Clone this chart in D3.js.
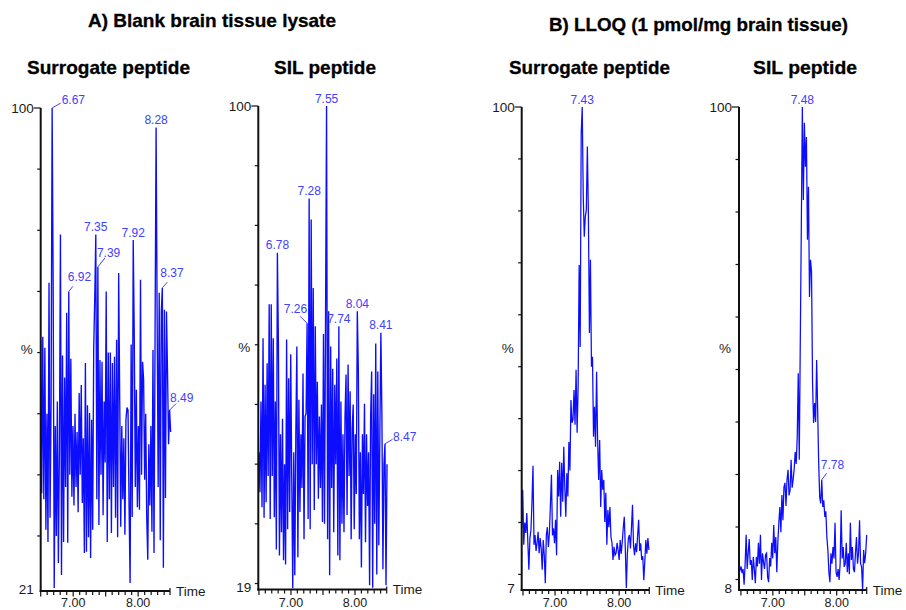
<!DOCTYPE html>
<html>
<head>
<meta charset="utf-8">
<script src="https://cdn.jsdelivr.net/npm/d3@7"></script>
<style>
  body { margin: 0; background: #fff; }
  svg { display: block; }
  text { font-family: "Liberation Sans", Arial, sans-serif; }
</style>
</head>
<body>
<svg width="906" height="610"></svg>
<script>
// --- data (% of base peak per scan) ---
const scanStep = 0.016;                 // min between scans
const scanStart = [6.50, 6.50, 6.48, 6.47];
const axisFloor = [21, 19, 7, 8];       // bottom value printed on each y axis

const blankSurrogate = [62, 37, 62.6, 36, 60.8, 31, 50, 29, 71.4, 33, 52, 100, 70.6, 21.5, 48, 30,
  52, 25.6, 44, 79.3, 23.6, 59.5, 29, 55.9, 38, 66.5, 28.9, 70, 40, 59, 36.4, 48, 35, 50, 38, 47,
  33.9, 53.4, 40, 54.7, 35.4, 46, 27.2, 58.3, 27.4, 51.4, 29.8, 50.1, 26.4, 49, 31, 60.8, 69, 79.3,
  36, 74, 31.8, 58.8, 40, 58.5, 33.4, 52, 42, 70, 29, 60, 36, 60, 30.5, 58.3, 38, 59.3, 33, 62.1,
  29.8, 73, 52.3, 31.5, 48, 36, 46, 30.2, 49, 51, 50.6, 35, 22.3, 61.3, 33.1, 78.4, 62.6, 38, 53.9,
  34.7, 48, 34.3, 71.9, 40, 58.5, 55.5, 39.2, 50, 33, 26.1, 45, 35, 48, 30.7, 60.4, 27.2, 62.6,
  96.8, 65.7, 38, 69.8, 29.3, 66.7, 70.6, 24.8, 67, 36.2, 66.7, 56.7, 45, 50.6, 47];

const blankSIL = [42, 35.3, 50.5, 32.8, 61.1, 31, 53.3, 33.6, 56.9, 38, 66.8, 30.8, 66.8, 38, 61.1,
  31.1, 50.5, 25.7, 75.4, 60.2, 24.7, 45, 28.6, 47.6, 23.9, 40, 23.2, 60.9, 29.1, 54.4, 32, 58.4,
  38, 19.2, 42, 21.4, 45, 59.7, 24.4, 50.8, 32, 45, 36, 55.2, 27.4, 48, 48.5, 63.6, 30.8, 84.5,
  29.1, 81, 40, 69.5, 32.3, 63.1, 40, 53.8, 34.2, 48, 36, 50, 30.3, 61.8, 30, 64.3, 100, 27.4, 65.6,
  21.4, 59.7, 36, 56, 28.6, 53.3, 40, 57.7, 24.7, 63.1, 23.9, 50.5, 30, 45, 28.6, 48, 55, 31.5,
  56.7, 38, 52.2, 27.4, 46, 50, 29.1, 45, 35, 65.6, 56, 27.4, 42, 22.7, 45, 35, 50.1, 26.9, 45, 33,
  42, 19.7, 48, 55.5, 19.3, 51.7, 30, 60.2, 21.5, 55.5, 26.4, 45, 62, 48.3, 22.4, 40, 43.4, 19.7, 40];

const lloqSurrogate = [18.9, 26.3, 15.7, 20, 18, 21.8, 16.1, 10.9, 17, 18.5, 23.8, 30.9, 15.7, 17.6,
  14.5, 16.1, 18.2, 14.1, 17, 15, 10.9, 16.6, 13.7, 8.3, 17.6, 19.1, 15.3, 18, 23.4, 29.2, 17.5,
  18.9, 16, 20.5, 13.7, 30.1, 25, 31.7, 21.1, 31.5, 24, 34.6, 26.8, 21.1, 29.5, 25, 35.5, 30, 43.6,
  39.2, 39.8, 45.5, 38.8, 49.4, 37.3, 46.1, 69.6, 53.8, 95, 100, 82.7, 75, 78.9, 80.2, 92.4, 79.6,
  56.5, 70.6, 50, 51.9, 36.5, 42.3, 34.6, 49, 36, 28.2, 35.9, 23, 30.1, 26.3, 28.2, 20.1, 25.7, 15.7,
  22.4, 19.1, 23, 17.2, 16.1, 12.8, 15.3, 13.7, 14.1, 16.1, 14.7, 12.8, 16.6, 14, 16.2, 19, 21.1, 15,
  7.4, 14, 17, 17.6, 15, 19, 23.4, 15.5, 13.7, 16, 14.3, 17.5, 20.5, 14.5, 16, 12.8, 13.5, 8.9, 12.5,
  16.6, 14, 17, 14.7];

const lloqSIL = [12.4, 11.8, 12.5, 11.2, 12, 9, 13, 18.5, 12, 15, 17.7, 12.8, 13.7, 9.9, 14.3, 12,
  9.3, 14.3, 12.5, 17, 13, 18.5, 9.9, 15, 13.3, 12, 14.7, 15, 10.5, 9.5, 14.1, 12.5, 17, 14, 20.4,
  15, 18.1, 11.4, 17, 20.8, 23.8, 19, 26.1, 21.3, 27.6, 28.4, 24, 29, 30.9, 26, 27, 32.8, 27.5, 29,
  31, 34.3, 32, 37.1, 49.3, 32.8, 55.6, 77.1, 100, 82.3, 97, 88.6, 94.3, 74.7, 84.8, 63.8, 70.9,
  68.6, 47.4, 39.8, 43.6, 40, 51.8, 42.3, 32.2, 25.7, 24.5, 29, 23.8, 25.1, 21.9, 23, 18.1, 15.6,
  11.4, 9.5, 15, 13, 16.2, 14, 20.8, 11.4, 10.5, 12, 9.9, 13, 23.2, 14, 16.2, 12.4, 13, 17, 11.4,
  15, 11, 20.8, 13.7, 16.2, 12, 11.4, 15, 18.1, 13, 15, 21.3, 13, 12.4, 8, 15.6, 13.1, 15, 18.5];

// retention times printed over the peaks
const blankSurrogatePeaks = ["6.67", "6.92", "7.35", "7.39", "7.92", "8.28", "8.37", "8.49"];
const blankSILPeaks = ["6.78", "7.26", "7.28", "7.55", "7.74", "8.04", "8.41", "8.47"];
const lloqSurrogatePeaks = ["7.43"];
const lloqSILPeaks = ["7.48", "7.78"];

const xTicks = [7, 8];

// --- layout ---
const svg = d3.select("svg");
const blue = "#0c0cff";
const labelBlue = "#4040ff";

const panels = [
  { series: blankSurrogate, peaks: blankSurrogatePeaks, k: 0, left: 40.7, right: 170, tMin: 6.5, tMax: 8.49, top: 108, bottom: 591, sw: 1.35 },
  { series: blankSIL, peaks: blankSILPeaks, k: 1, left: 258.3, right: 386.7, tMin: 6.49, tMax: 8.495, top: 106, bottom: 589.5, sw: 1.35 },
  { series: lloqSurrogate, peaks: lloqSurrogatePeaks, k: 2, left: 521.7, right: 649.3, tMin: 6.48, tMax: 8.47, top: 107, bottom: 590, sw: 1.25 },
  { series: lloqSIL, peaks: lloqSILPeaks, k: 3, left: 739, right: 866.7, tMin: 6.47, tMax: 8.47, top: 107, bottom: 590, sw: 1.25 }
];

// labels that sit off to one side with a small leader line
const leaders = {
  "6.67": { anchor: "start", dx: 9.5, dy: -4, lx: 8.6, ly: -5 },
  "7.39": { anchor: "start", dx: -1, dy: -10, lx: 7, ly: -9 },
  "6.92": { anchor: "start", dx: -1, dy: -10, lx: 4, ly: -5 },
  "8.37": { anchor: "start", dx: -2, dy: -10.5, lx: 5, ly: -5.5 },
  "8.49": { anchor: "start", dx: 0.5, dy: -8.5, lx: 6.5, ly: -6.5 },
  "7.26": { anchor: "end", dx: 0, dy: -10, lx: -7, ly: -7 },
  "8.47": { anchor: "start", dx: 8, dy: -3, lx: 7.5, ly: -4.5 },
  "7.78": { anchor: "start", dx: -1, dy: -10.5, lx: 5, ly: -6.5 }
};

// headings
const headings = [
  { text: "A) Blank brain tissue lysate", x: 88, y: 27, w: 248 },
  { text: "B) LLOQ (1 pmol/mg brain tissue)", x: 549, y: 31, w: 299 },
  { text: "Surrogate peptide", x: 27, y: 74, w: 163 },
  { text: "SIL peptide", x: 274, y: 74, w: 102 },
  { text: "Surrogate peptide", x: 509, y: 74, w: 161 },
  { text: "SIL peptide", x: 753, y: 74, w: 104 }
];
svg.selectAll("text.heading")
  .data(headings)
  .join("text")
  .attr("class", "heading")
  .attr("x", d => d.x)
  .attr("y", d => d.y)
  .attr("textLength", d => d.w)
  .attr("lengthAdjust", "spacingAndGlyphs")
  .style("font-family", '"Liberation Sans Narrow", "Arial Narrow", "Liberation Sans", Arial, sans-serif')
  .style("font-weight", "bold")
  .style("font-size", "18.5px")
  .attr("fill", "#000")
  .attr("stroke", "#000")
  .attr("stroke-width", 0.3)
  .text(d => d.text);

panels.forEach(p => {
  const t0 = scanStart[p.k];
  const floor = axisFloor[p.k];
  const x = d3.scaleLinear().domain([p.tMin, p.tMax]).range([p.left, p.right]);
  const y = d3.scaleLinear().domain([floor, 100]).range([p.bottom, p.top]);
  const pts = p.series.map((v, i) => [t0 + i * scanStep, v]);

  const g = svg.append("g");

  g.append("path")
    .datum(pts)
    .attr("fill", "none")
    .attr("stroke", blue)
    .attr("stroke-width", p.sw)
    .attr("stroke-linejoin", "miter")
    .attr("d", d3.line().x(d => x(d[0])).y(d => y(d[1])));

  // peak labels: attach to the tallest scan near the printed time
  p.peaks.forEach(lbl => {
    const t = +lbl;
    const near = pts.filter(d => Math.abs(d[0] - t) <= 0.02);
    const top = near.reduce((a, b) => (b[1] > a[1] ? b : a));
    const px = x(top[0]), py = y(top[1]);
    const L = leaders[lbl];
    if (L) {
      g.append("line")
        .attr("x1", px).attr("y1", py)
        .attr("x2", px + L.lx).attr("y2", py + L.ly)
        .attr("stroke", labelBlue).attr("stroke-width", 1);
    }
    g.append("text")
      .attr("x", px + (L ? L.dx : 0))
      .attr("y", py + (L ? L.dy : -3.5))
      .attr("text-anchor", L ? L.anchor : "middle")
      .attr("fill", labelBlue)
      .style("font-size", "12px")
      .text(lbl);
  });

  // y axis
  const ax = g.append("g").attr("stroke", "#111");
  ax.append("line")
    .attr("x1", p.left).attr("x2", p.left)
    .attr("y1", y(100)).attr("y2", p.bottom + 1)
    .attr("stroke-width", 2);
  const yTicks = d3.range(Math.ceil(floor / 10) * 10, 100.01, 10);
  ax.selectAll("line.yt")
    .data(yTicks)
    .join("line")
    .attr("class", "yt")
    .attr("x1", d => p.left - (d === 100 ? 7 : 3.5))
    .attr("x2", p.left)
    .attr("y1", d => y(d)).attr("y2", d => y(d))
    .attr("stroke-width", 1.2);

  // x axis
  ax.append("line")
    .attr("x1", p.left - 1).attr("x2", p.right)
    .attr("y1", p.bottom).attr("y2", p.bottom)
    .attr("stroke-width", 2);
  const minor = d3.range(Math.ceil(p.tMin * 10), Math.floor(p.tMax * 10) + 1).map(d => d / 10);
  ax.selectAll("line.xt")
    .data(minor)
    .join("line")
    .attr("class", "xt")
    .attr("x1", d => x(d)).attr("x2", d => x(d))
    .attr("y1", p.bottom)
    .attr("y2", d => p.bottom + (Math.abs(d * 2 - Math.round(d * 2)) < 1e-6 ? 5.5 : 4))
    .attr("stroke-width", 1.2);
  ax.append("line")
    .attr("x1", p.right).attr("x2", p.right)
    .attr("y1", p.bottom - 3).attr("y2", p.bottom + 4)
    .attr("stroke-width", 1.2);

  const txt = g.append("g")
    .attr("fill", "#1a1a1a")
    .style("font-size", "13.5px");
  txt.append("text")
    .attr("x", p.left - 7).attr("y", y(100))
    .attr("dy", "0.35em")
    .attr("text-anchor", "end")
    .text("100");
  txt.append("text")
    .attr("x", p.left - 7).attr("y", p.bottom - 2)
    .attr("dy", "0.35em")
    .attr("text-anchor", "end")
    .text(floor);
  txt.append("text")
    .attr("x", p.left - 8).attr("y", (y(100) + p.bottom) / 2)
    .attr("dy", "0.35em")
    .attr("text-anchor", "end")
    .text("%");
  txt.append("text")
    .attr("x", p.right + 6).attr("y", p.bottom)
    .attr("dy", "0.35em")
    .text("Time");
  txt.selectAll("text.xl")
    .data(xTicks)
    .join("text")
    .attr("class", "xl")
    .attr("x", d => x(d))
    .attr("y", 606.5)
    .attr("text-anchor", "middle")
    .style("font-size", "12.5px")
    .text(d => d.toFixed(2));
});
</script>
</body>
</html>
